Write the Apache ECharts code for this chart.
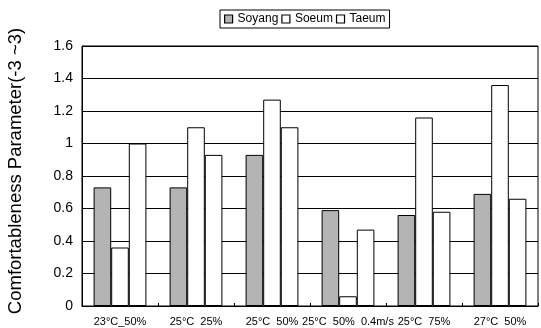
<!DOCTYPE html>
<html><head><meta charset="utf-8">
<script src="https://cdn.jsdelivr.net/npm/echarts@6/dist/echarts.min.js"></script>
<style>html,body{margin:0;padding:0;background:#fff;}#c{width:541px;height:328px;}</style>
</head><body><div id="c"></div>
<script>
var categories = ['23°C_50%', '25°C  25%', '25°C  50%', '25°C  50%  0.4m/s', '25°C  75%', '27°C  50%'];
var soyang = [0.73, 0.73, 0.93, 0.59, 0.56, 0.69];
var soeum = [0.36, 1.10, 1.27, 0.06, 1.16, 1.36];
var taeum = [1.00, 0.93, 1.10, 0.47, 0.58, 0.66];
var yTicks = {min: 0, max: 1.6, interval: 0.2};
var yTitle = 'Comfortableness Parameter(-3 ~3)';

var chart = echarts.init(document.getElementById('c'), null, {renderer: 'canvas'});
var font = 'Liberation Sans, Arial, sans-serif';
var barW = 17.6;
function ser(name, data, color) {
  return {
    name: name, type: 'bar', data: data, barWidth: barW, barGap: '0%',
    itemStyle: {color: color, borderColor: '#000', borderWidth: 1},
    emphasis: {disabled: true}, animation: false
  };
}
chart.setOption({
  animation: false,
  backgroundColor: '#fff',
  textStyle: {fontFamily: font, color: '#000'},
  legend: {
    top: 10, left: 220,
    data: ['Soyang', 'Soeum', 'Taeum'],
    icon: 'rect',
    itemWidth: 8, itemHeight: 8, itemGap: 3,
    borderColor: '#000', borderWidth: 1, padding: [3, 4, 3, 4],
    itemStyle: {borderColor: '#000', borderWidth: 1.2},
    textStyle: {fontFamily: font, fontSize: 12, color: '#000'},
    selectedMode: false
  },
  grid: {left: 82, right: 3, top: 46, bottom: 22, show: true, borderColor: '#000', borderWidth: 1,
         containLabel: false, outerBoundsMode: 'none'},
  xAxis: {
    type: 'category', data: categories,
    axisLine: {lineStyle: {color: '#000', width: 1}},
    axisTick: {show: true, inside: true, length: 3, lineStyle: {color: '#000'}},
    axisLabel: {interval: 0, fontSize: 11, color: '#000', fontFamily: font, margin: 10}
  },
  yAxis: {
    type: 'value', min: yTicks.min, max: yTicks.max, interval: yTicks.interval,
    name: yTitle, nameLocation: 'middle', nameGap: 57,
    nameTextStyle: {fontSize: 18.5, color: '#000', fontFamily: font, padding: [0, 0, 0, 10]},
    axisLine: {show: true, lineStyle: {color: '#000'}},
    axisTick: {show: false},
    splitLine: {show: true, lineStyle: {color: '#000', width: 1}},
    axisLabel: {fontSize: 14, color: '#000', fontFamily: font, margin: 9}
  },
  series: [
    ser('Soyang', soyang, '#b4b4b4'),
    ser('Soeum', soeum, '#fff'),
    ser('Taeum', taeum, '#fff')
  ]
});
</script></body></html>
